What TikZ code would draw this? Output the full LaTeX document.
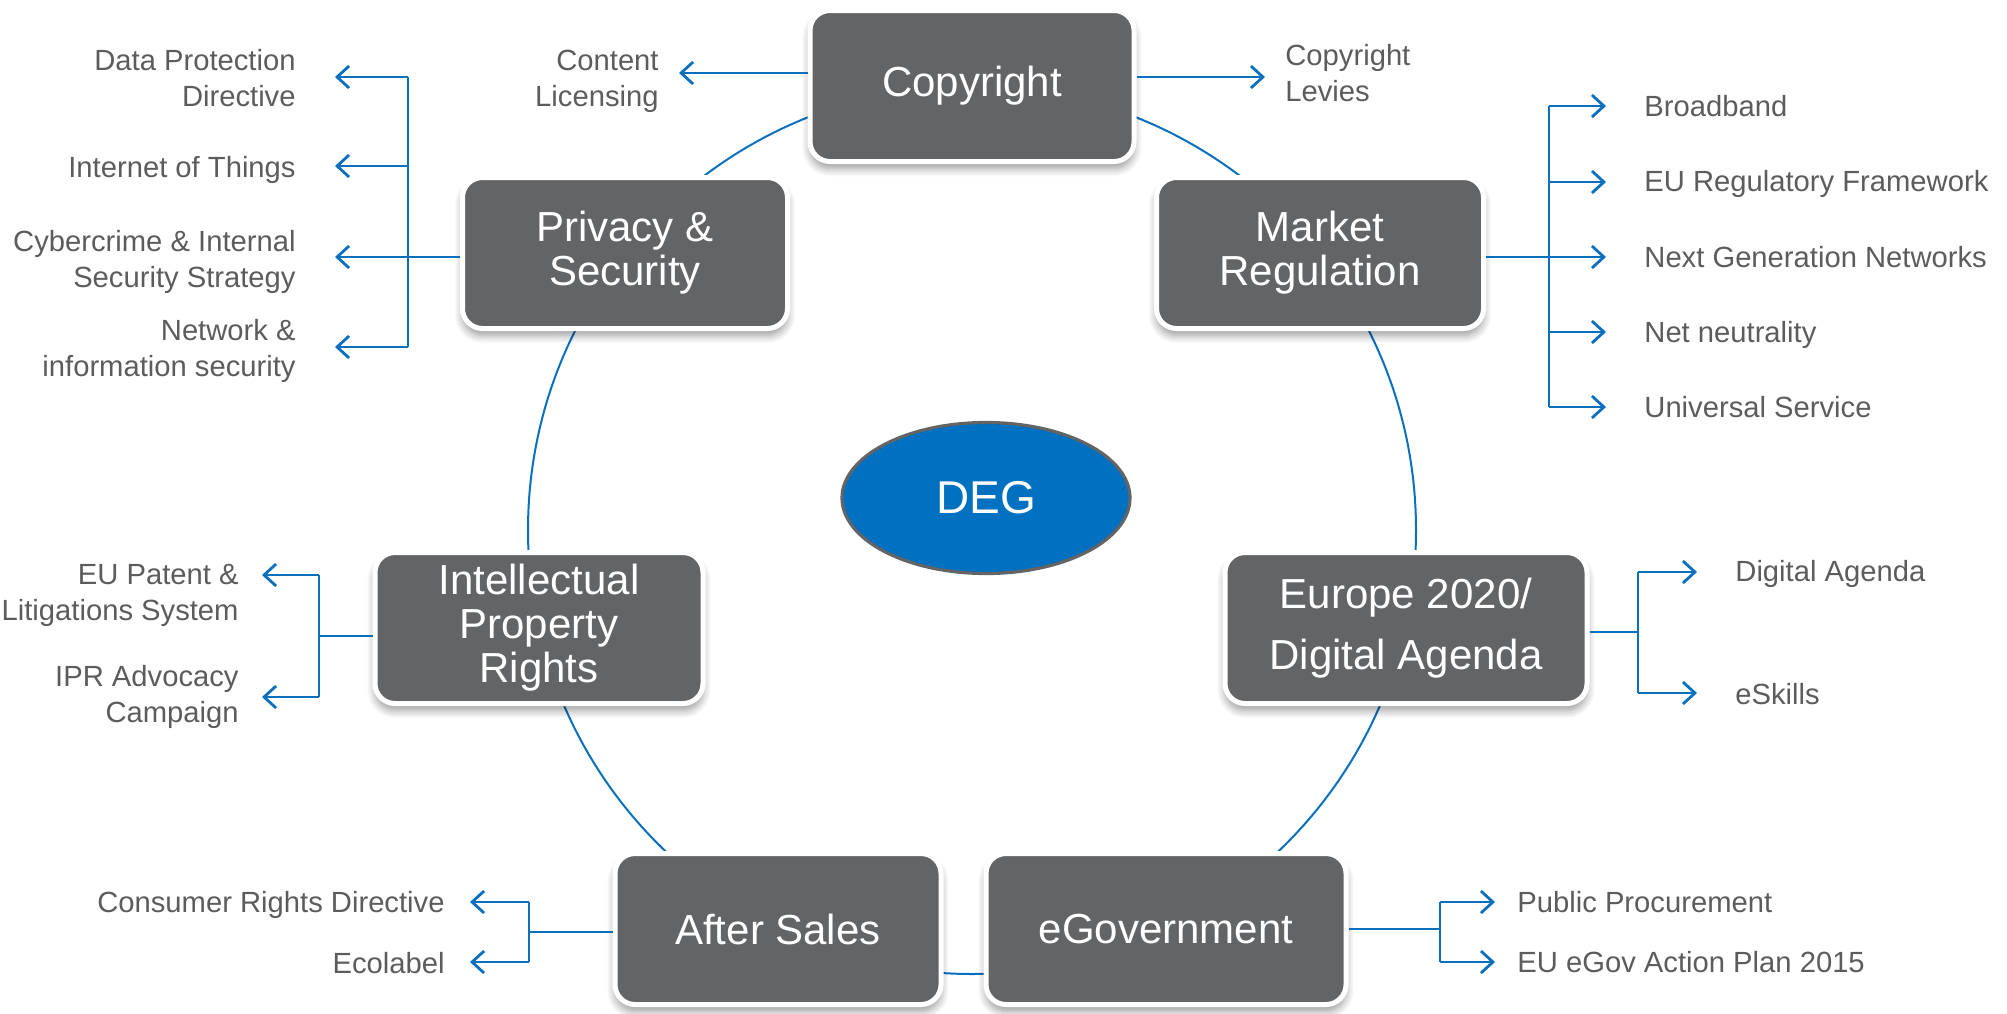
\documentclass[tikz,border=0pt]{standalone}
\usepackage{fontspec}
\setmainfont{Liberation Sans}
\usetikzlibrary{arrows.meta,shadows,shadows.blur,shapes.geometric}
\definecolor{boxgray}{RGB}{99,100,102}
\definecolor{txtgray}{RGB}{92,92,92}
\definecolor{degblue}{RGB}{0,112,192}
\definecolor{linkblue}{RGB}{10,112,190}
\begin{document}
\begin{tikzpicture}[x=0.5pt,y=-0.5pt,
  topic/.style={draw=white, line width=2.5pt, fill=boxgray, rounded corners=10pt,
    text=white, font=\fontsize{21}{22}\selectfont, align=center, inner sep=0pt,
    minimum height=75.5pt,
    blur shadow={shadow xshift=0pt, shadow yshift=-3.5pt, shadow opacity=40, shadow blur radius=4pt, shadow blur steps=8}},
  item/.style={text=txtgray, font=\fontsize{14.6}{18}\selectfont, inner sep=0pt},
  ring/.style={draw=linkblue, line width=1pt},
  br/.style={draw=linkblue, line width=1.4pt},
  arr/.style={br, -{Straight Barb[length=6pt,width=11pt]}}]

\useasboundingbox (0,0) rectangle (2007,1013);

% ring connecting the topics
\draw[ring] (972,530) circle[radius=222pt];

% topics
\node[topic, minimum width=162pt] (copy) at (972,86) {Copyright};
\node[topic, minimum width=162.5pt] (priv) at (625,253) {Privacy \&\\Security};
\node[topic, minimum width=163.5pt] (mark) at (1320,253) {Market\\Regulation};
\node[topic, minimum width=164pt] (ipr) at (539,628) {Intellectual\\Property\\Rights};
\node[topic, minimum width=181pt, font=\fontsize{21}{30.5}\selectfont] (eur) at (1406,628) {Europe 2020/\\Digital Agenda};
\node[topic, minimum width=163pt] (after) at (778,929) {After Sales};
\node[topic, minimum width=180pt] (egov) at (1166,929) {eGovernment};

\node[ellipse, draw=boxgray, line width=1.6pt, fill=degblue, minimum width=144pt,
  minimum height=75.5pt, text=white, font=\fontsize{23}{26}\selectfont] (deg) at (986,498) {DEG};

% Copyright branches
\node[item, anchor=east, align=right] (cl) at (659,81) {Content\\Licensing};
\node[item, anchor=west, align=left] (cv) at (1285,73) {Copyright\\Levies};
\coordinate (cla) at (659,73);
\coordinate (cva) at (1285,77);
\draw[arr, shorten >=10pt] (copy.west |- cla) -- (cla);
\draw[arr, shorten >=10pt] (copy.east |- cva) -- (cva);

% Privacy & Security branches
\node[item, anchor=east, align=right] (p1) at (296,78) {Data Protection\\Directive};
\node[item, anchor=east, align=right] (p2) at (296,170) {Internet of Things};
\node[item, anchor=east, align=right] (p3) at (296,262) {Cybercrime \& Internal\\Security Strategy};
\node[item, anchor=east, align=right] (p4) at (296,351) {Network \&\\information security};
\coordinate (ps) at (408,257);
\coordinate (pa1) at (296,77);
\coordinate (pa2) at (296,166);
\coordinate (pa3) at (296,257);
\coordinate (pa4) at (296,347);
\draw[br] (priv.west |- ps) -- (ps);
\draw[br] (ps |- pa1) -- (ps |- pa4);
\foreach \n in {pa1,pa2,pa3,pa4}
  \draw[arr, shorten >=19.5pt] (ps |- \n) -- (\n);

% Market Regulation branches
\node[item, anchor=west] (m1) at (1644,106) {Broadband};
\node[item, anchor=west] (m2) at (1644,184) {EU Regulatory Framework};
\node[item, anchor=west] (m3) at (1644,257) {Next Generation Networks};
\node[item, anchor=west] (m4) at (1644,335) {Net neutrality};
\node[item, anchor=west] (m5) at (1644,407) {Universal Service};
\coordinate (ms) at (1549,257);
\coordinate (ma1) at (1644,106);
\coordinate (ma2) at (1644,182);
\coordinate (ma3) at (1644,257);
\coordinate (ma4) at (1644,332);
\coordinate (ma5) at (1644,407);
\draw[br] (mark.east |- ms) -- (ms);
\draw[br] (ms |- ma1) -- (ms |- ma5);
\foreach \n in {ma1,ma2,ma3,ma4,ma5}
  \draw[arr, shorten >=19pt] (ms |- \n) -- (\n);

% Intellectual Property Rights branches
\node[item, anchor=east, align=right] (i1) at (239,595) {EU Patent \&\\Litigations System};
\node[item, anchor=east, align=right] (i2) at (239,697) {IPR Advocacy\\Campaign};
\coordinate (is) at (319,636);
\coordinate (ia1) at (239,575);
\coordinate (ia2) at (239,697);
\draw[br] (ipr.west |- is) -- (is);
\draw[br] (is |- ia1) -- (is |- ia2);
\draw[arr, shorten >=11.5pt] (is |- ia1) -- (ia1);
\draw[arr, shorten >=11.5pt] (is |- ia2) -- (ia2);

% Europe 2020 branches
\node[item, anchor=west] (e1) at (1735,574) {Digital Agenda};
\node[item, anchor=west] (e2) at (1735,694) {eSkills};
\coordinate (es) at (1638,632);
\coordinate (ea1) at (1735,572);
\coordinate (ea2) at (1735,693);
\draw[br] (eur.east |- es) -- (es);
\draw[br] (es |- ea1) -- (es |- ea2);
\foreach \n in {ea1,ea2}
  \draw[arr, shorten >=19pt] (es |- \n) -- (\n);

% After Sales branches
\node[item, anchor=east] (a1) at (445,905) {Consumer Rights Directive};
\node[item, anchor=east] (a2) at (445,963) {Ecolabel};
\coordinate (as) at (529,932);
\coordinate (aa1) at (445,902);
\coordinate (aa2) at (445,962);
\draw[br] (after.west |- as) -- (as);
\draw[br] (as |- aa1) -- (as |- aa2);
\foreach \n in {aa1,aa2}
  \draw[arr, shorten >=12.5pt] (as |- \n) -- (\n);

% eGovernment branches
\node[item, anchor=west] (g1) at (1517,902) {Public Procurement};
\node[item, anchor=west] (g2) at (1517,962) {EU eGov Action Plan 2015};
\coordinate (gs) at (1440,929);
\draw[br] (egov.east |- gs) -- (gs);
\draw[br] (gs |- g1.west) -- (gs |- g2.west);
\foreach \n in {g1,g2}
  \draw[arr, shorten >=11pt] (gs |- \n.west) -- (\n.west);
\end{tikzpicture}
\end{document}
